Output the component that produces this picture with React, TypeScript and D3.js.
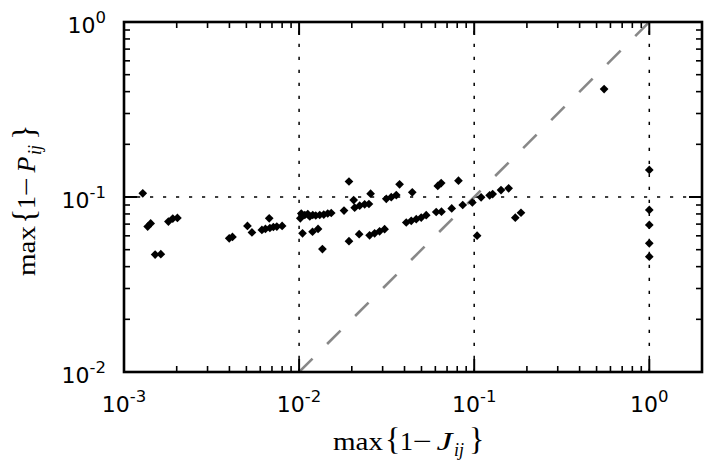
import React from 'react';
import * as d3 from 'd3';

const W = 708;
const H = 465;

// max{1 - J_ij}
const jValues = [
  0.00128, 0.001365, 0.00142, 0.001506, 0.001623, 0.001793, 0.001899, 0.002018,
  0.00399, 0.004163, 0.00507, 0.00538, 0.00613, 0.00642, 0.00675, 0.00681, 0.00713, 0.00746, 0.008,
  0.01016, 0.01029, 0.01078, 0.01121, 0.01151, 0.01197, 0.01245, 0.01312, 0.01383, 0.01457, 0.01526,
  0.01046, 0.01193, 0.01283, 0.01359,
  0.01805, 0.01927, 0.01927, 0.0205, 0.02077, 0.02218, 0.02368, 0.02505, 0.02561,
  0.02203, 0.02527, 0.027, 0.02883, 0.03078,
  0.03148, 0.0336, 0.03589, 0.03748, 0.04429,
  0.04093, 0.04371, 0.04667, 0.04983, 0.0532,
  0.06067, 0.06503, 0.06194, 0.06478, 0.0744, 0.0813, 0.086, 0.0976, 0.1039,
  0.1095, 0.1225, 0.1275, 0.1423, 0.1573, 0.1717, 0.185,
  0.552,
  1.0, 1.0, 1.0, 1.0, 1.0,
];

// max{1 - P_ij}
const pValues = [
  0.105, 0.0678, 0.0706, 0.0469, 0.0471, 0.0724, 0.0753, 0.0759,
  0.0581, 0.0591, 0.0683, 0.0627, 0.0648, 0.0657, 0.0755, 0.0665, 0.0674, 0.0678, 0.0683,
  0.0755, 0.0805, 0.0789, 0.0799, 0.0774, 0.0789, 0.0784, 0.0789, 0.0794, 0.0805, 0.081,
  0.062, 0.0633, 0.0657, 0.0504,
  0.0837, 0.1226, 0.0559, 0.0961, 0.0869, 0.0892, 0.0908, 0.0912, 0.1044,
  0.0613, 0.0604, 0.062, 0.0637, 0.0655,
  0.0976, 0.0997, 0.1026, 0.1182, 0.1064,
  0.0715, 0.0731, 0.0747, 0.0763, 0.0787,
  0.0821, 0.0824, 0.1156, 0.1202, 0.086, 0.1239, 0.09, 0.093, 0.0601,
  0.0996, 0.1023, 0.104, 0.1096, 0.1121, 0.0762, 0.0813,
  0.414,
  0.1427, 0.0843, 0.0692, 0.0544, 0.0456,
];

const xDomain = [1e-3, 2];
const yDomain = [1e-2, 1];
const xMajorTicks = [1e-3, 1e-2, 1e-1, 1];
const xTickExponents = ['-3', '-2', '-1', '0'];
const yMajorTicks = [1e-2, 1e-1, 1];
const yTickExponents = ['-2', '-1', '0'];
const diagonal = [1e-2, 1];

const M = { left: 124, right: 702, top: 22, bottom: 372 };

function MathLabel({ sym, tx, ty, rotate }: { sym: string; tx: number; ty: number; rotate?: boolean }) {
  const off = { max: -77, lb: -25, one: -10, minus: 3, sym: 26.5, sub: 44, rb: 59 };
  return (
    <g transform={`translate(${tx},${ty})${rotate ? ' rotate(-90)' : ''}`} fontFamily="'Liberation Serif', serif" fill="#000">
      <text x={off.max} y={0} fontSize={26} textLength={50} lengthAdjust="spacingAndGlyphs">max</text>
      <text x={off.lb} y={0} fontSize={32}>{'{'}</text>
      <text x={off.one} y={0} fontSize={26}>1</text>
      <text x={off.minus} y={0} fontSize={26} textLength={19} lengthAdjust="spacingAndGlyphs">{'\u2212'}</text>
      <text x={off.sym} y={0} fontSize={26} fontStyle="italic" textLength={16} lengthAdjust="spacingAndGlyphs">{sym}</text>
      <text x={off.sub} y={6} fontSize={18} fontStyle="italic">ij</text>
      <text x={off.rb} y={0} fontSize={32}>{'}'}</text>
    </g>
  );
}

export default function App() {
  const x = d3.scaleLog().domain(xDomain).range([M.left, M.right]);
  const y = d3.scaleLog().domain(yDomain).range([M.bottom, M.top]);

  const isPow10 = (v: number) => Math.abs(Math.log10(v) - Math.round(Math.log10(v))) < 1e-9;
  const xMinor = x.ticks().filter((v) => !isPow10(v) && v >= xDomain[0] && v <= xDomain[1]);
  const yMinor = y.ticks().filter((v) => !isPow10(v));

  const diamond = d3.symbol().type(d3.symbolSquare).size(38)() as string;

  const majorLen = 13;
  const minorLen = 6;

  const xGrid = xMajorTicks.filter((v) => v > xDomain[0] && v < xDomain[1]);
  const yGrid = yMajorTicks.filter((v) => v > yDomain[0] && v < yDomain[1]);

  return (
    <svg width={W} height={H} style={{ position: 'absolute', left: 0, top: 0, background: '#fff' }}>
      <rect x={0} y={0} width={W} height={H} fill="#fff" />
      <defs>
        <clipPath id="plotclip">
          <rect x={M.left} y={M.top} width={M.right - M.left} height={M.bottom - M.top} />
        </clipPath>
      </defs>
      {/* grid */}
      <g stroke="#000" strokeWidth={1.5} strokeDasharray="3.2 9.8">
        {xGrid.map((v) => (
          <line key={'gx' + v} x1={x(v)} x2={x(v)} y1={M.bottom} y2={M.top} />
        ))}
        {yGrid.map((v) => (
          <line key={'gy' + v} x1={M.left} x2={M.right} y1={y(v)} y2={y(v)} />
        ))}
      </g>
      {/* diagonal */}
      <g clipPath="url(#plotclip)">
        <line
          x1={x(diagonal[0])}
          y1={y(diagonal[0])}
          x2={x(diagonal[1])}
          y2={y(diagonal[1])}
          stroke="#888"
          strokeWidth={2.6}
          strokeDasharray="19 20.6"
        />
      </g>
      {/* points */}
      <g clipPath="url(#plotclip)">
        {jValues.map((jv, i) => (
          <path key={i} d={diamond} transform={`translate(${x(jv)},${y(pValues[i])}) rotate(45)`} fill="#000" />
        ))}
      </g>
      {/* ticks */}
      <g stroke="#000">
        {xMajorTicks.map((v) => (
          <g key={'xt' + v} strokeWidth={2}>
            <line x1={x(v)} x2={x(v)} y1={M.bottom} y2={M.bottom - majorLen} />
            <line x1={x(v)} x2={x(v)} y1={M.top} y2={M.top + majorLen} />
          </g>
        ))}
        {xMinor.map((v) => (
          <g key={'xm' + v} strokeWidth={1.6}>
            <line x1={x(v)} x2={x(v)} y1={M.bottom} y2={M.bottom - minorLen} />
            <line x1={x(v)} x2={x(v)} y1={M.top} y2={M.top + minorLen} />
          </g>
        ))}
        {yMajorTicks.map((v) => (
          <g key={'yt' + v} strokeWidth={2}>
            <line x1={M.left} x2={M.left + majorLen} y1={y(v)} y2={y(v)} />
            <line x1={M.right} x2={M.right - majorLen} y1={y(v)} y2={y(v)} />
          </g>
        ))}
        {yMinor.map((v) => (
          <g key={'ym' + v} strokeWidth={1.6}>
            <line x1={M.left} x2={M.left + minorLen} y1={y(v)} y2={y(v)} />
            <line x1={M.right} x2={M.right - minorLen} y1={y(v)} y2={y(v)} />
          </g>
        ))}
      </g>
      {/* frame */}
      <rect
        x={M.left}
        y={M.top}
        width={M.right - M.left}
        height={M.bottom - M.top}
        fill="none"
        stroke="#000"
        strokeWidth={2.6}
      />
      {/* tick labels */}
      <g fontFamily="'DejaVu Sans', sans-serif" fill="#000">
        {xMajorTicks.map((v, i) => (
          <text key={'xl' + v} x={x(v)} y={M.bottom + 39.7} textAnchor="middle" fontSize={22}>
            <tspan>10</tspan>
            <tspan fontSize={16.5} dy={-10}>{xTickExponents[i]}</tspan>
          </text>
        ))}
        {yMajorTicks.map((v, i) => (
          <text key={'yl' + v} x={106} y={y(v) + 10.7} textAnchor="end" fontSize={22}>
            <tspan>10</tspan>
            <tspan fontSize={16.5} dy={-10}>{yTickExponents[i]}</tspan>
          </text>
        ))}
      </g>
      {/* axis labels */}
      <MathLabel sym="J" tx={410} ty={450} />
      <MathLabel sym="P" tx={35} ty={199} rotate />
    </svg>
  );
}
